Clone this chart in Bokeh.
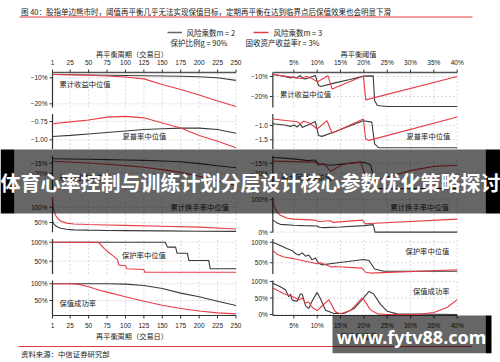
import numpy as np
from bokeh.plotting import figure
from bokeh.models import Range1d
from bokeh.core.properties import value
from bokeh.embed import file_html
from bokeh.resources import INLINE

# ---------------- data ----------------
title = "图 40：股指单边熊市时，阈值再平衡几乎无法实现保值目标，定期再平衡在达到临界点后保值效果也会明显下滑"
source_note = "资料来源：中信证券研究部"
legend_m2 = "风险乘数m = 2"
legend_m3 = "风险乘数m = 3"
legend_g = "保护比例g = 90%"
legend_r = "固收资产收益率r = 3%"
left_axis_title = "再平衡周期（交易日）"
right_axis_title = "再平衡阈值"
panel_names = ["累计收益中位值", "夏普率中位值", "最大回撤中位值", "累计换手率中位值", "保护率中位值", "保值成功率"]
banner_text = "体育心率控制与训练计划分层设计核心参数优化策略探讨"
watermark_text = "www.fytv88.com"

period_ticks = [1, 25, 50, 75, 100, 125, 150, 175, 200, 225, 250]
threshold_ticks = [5, 10, 15, 20, 25, 30, 35, 40]
threshold_labels = ["5%", "10%", "15%", "20%", "25%", "30%", "35%", "40%"]

# left column: periodic rebalancing (x = trading days)
days = [1, 25, 50, 75, 100, 125, 150, 175, 200, 225, 250]
ret_m2_L = [-8.7, -8.8, -8.9, -9.0, -9.1, -9.2, -9.3, -9.4, -9.6, -10.0, -11.0]
ret_m3_L = [-8.7, -8.8, -9.0, -9.3, -9.7, -10.4, -12.6, -14.5, -16.6, -18.9, -21.0]
sh_m2_L = [-0.955, -0.94, -0.92, -0.90, -0.88, -0.86, -0.85, -0.84, -0.84, -0.86, -0.91]
sh_m3_L = [-0.78, -0.755, -0.73, -0.69, -0.68, -0.70, -0.77, -0.84, -0.94, -1.02, -1.11]
dd_m2_L = [-12.8, -12.9, -13.0, -13.2, -13.4, -13.6, -13.9, -14.3, -15.2, -16.3, -17.3]
dd_m3_L = [-14.0, -14.4, -14.9, -15.5, -16.2, -17.0, -18.2, -19.6, -21.5, -23.8, -26.2]
to_days = [1, 2, 3, 5, 8, 12, 20, 30, 50, 75, 100, 150, 200, 250]
to_m2_L = [55, 50, 45, 40, 35, 31, 28, 26, 25, 24, 23.5, 22.5, 21.5, 21]
to_m3_L = [132, 100, 88, 74, 63, 55, 48, 45, 43.5, 42, 40.5, 38, 35, 29]
pr_days_m2 = [1, 154, 157, 168, 170, 184, 186, 213, 215, 250]
pr_m2_L = [100, 100, 87, 87, 71, 71, 52, 52, 30, 30]
pr_days_m3 = [1, 63, 67, 71, 76, 82, 89, 91, 100, 102, 125, 126, 250]
pr_m3_L = [100, 100, 92, 84, 75, 66, 55, 40, 38, 30, 28, 21, 21]
sc_days = [1, 25, 35, 50, 66, 75, 100, 125, 150, 175, 200, 225, 250]
sc_m2_L = [100, 100, 100, 100, 100, 100, 99, 95, 86, 72, 61, 48, 35]
sc_m3_L = [100, 100, 99, 91, 80, 75, 61, 48, 36, 26, 18.5, 13, 10]

# right column: threshold rebalancing (x = threshold %)
ret_m2_x = [0.5, 2, 3, 4.3, 5, 5.5, 6.4, 6.8, 7.5, 9.6, 10.3, 10.8, 13.6, 17, 20, 22, 22.3, 22.9, 25, 40]
ret_m2_R = [-9.0, -9.5, -10.0, -10.7, -10.2, -10.8, -9.5, -11.0, -11.2, -9.5, -14.5, -15.0, -13.3, -11.5, -9.8, -9.7, -22.0, -24.5, -25.0, -25.0]
ret_m3_x = [0.5, 3, 5, 6.5, 7, 7.7, 8.9, 10, 12.3, 13.2, 19.9, 20.4, 40]
ret_m3_R = [-9.0, -9.8, -10.5, -11.0, -10.5, -10.0, -11.0, -12.7, -9.6, -16.2, -9.7, -21.7, -10.0]
sh_m2_x = [0.5, 3, 4.3, 5, 5.7, 6.4, 6.8, 9.6, 10.3, 11, 13.6, 19.9, 21.7, 22.3, 23.2, 40]
sh_m2_R = [-0.94, -0.98, -1.03, -0.98, -1.05, -0.95, -1.07, -0.86, -1.35, -1.38, -1.23, -0.83, -0.88, -1.64, -1.78, -1.78]
sh_m3_x = [0.5, 5.7, 6.4, 7.1, 8.2, 10, 12.1, 13.2, 19.9, 20.4, 21.1, 40]
sh_m3_R = [-0.77, -0.87, -0.94, -0.85, -0.90, -1.12, -0.83, -1.27, -0.77, -1.47, -1.52, -0.70]
dd_m2_x = [0.5, 3, 6.4, 8, 9.6, 10.3, 12.9, 19.3, 20.7, 21.5, 22.5, 40]
dd_m2_R = [-12.3, -12.6, -13.3, -13.8, -13.5, -15.3, -16.0, -14.5, -15.0, -16.0, -27.0, -27.0]
dd_m3_x = [0.5, 9.6, 10.3, 11.4, 12.9, 15.7, 19.3, 20.3, 21, 25, 30, 35, 40]
dd_m3_R = [-14.0, -14.5, -16.0, -15.2, -18.8, -15.3, -14.5, -20.8, -24.0, -21.5, -18.5, -16.5, -16.0]
to_m2_x = [0.5, 1.2, 2.1, 5, 7, 10, 10.5, 11.5, 15, 20, 22, 22.4, 40]
to_m2_R = [37, 30, 24, 21, 20, 19, 15, 14, 16, 20, 23, 0, 0]
to_m3_x = [0.5, 0.8, 1.3, 2.1, 3.6, 5, 9.6, 10.2, 12.9, 13.3, 19.7, 20.3, 40]
to_m3_R = [100, 80, 65, 52, 43, 40, 37, 33, 35, 30, 37, 26, 40]
pr_m2_x = [0.5, 2.1, 3.6, 4.6, 5.4, 6.1, 6.8, 7.5, 8.2, 8.9, 9.6, 10.3, 11, 13.6, 20, 21.1, 22.3, 24.3, 40]
pr_m2_R = [100, 92, 84, 80, 72, 69, 74, 66, 69, 57, 62, 49, 45, 49, 58, 55.6, 35, 29.6, 29.6]
pr_m3_x = [0.5, 1.5, 2.9, 5, 7, 10, 10.7, 13.2, 13.6, 19.6, 20.4, 21.4, 40]
pr_m3_R = [80, 70, 64, 60, 55, 47.5, 50, 39, 41, 37, 27, 25, 33]
sc_m2_x = [0.5, 2.0, 3.2, 3.9, 4.3, 4.6, 5.0, 5.7, 6.4, 6.8, 7.5, 8.2, 8.9, 10.0, 10.7, 11.8, 13.6, 15.7, 17.9, 19.3, 21.1, 22.1, 23.6, 25.0, 27.1, 40]
sc_m2_R = [95, 85, 75, 54, 62, 45, 42, 40, 62, 62, 27, 18, 40, 67, 48, 13, 3, 3, 18, 40, 70, 62, 30, 10, 2, 0]
sc_m3_x = [0.5, 2.9, 4.6, 6.1, 6.8, 7.5, 8.2, 8.9, 10.0, 11, 12.5, 13.9, 15, 17.1, 19.6, 20.0, 21.4, 22.9, 25, 31.4, 35, 37.9, 40]
sc_m3_R = [80, 63, 55, 45, 50, 35, 38, 22, 12, 25, 45, 8, 2, 12, 50, 45, 14, 2, 0, 0, 6, 22, 45]

# y ticks and axis limits per panel
left_ticks = [([-10, -20], ["−10%", "−20%"]), ([-0.75, -1.00], ["−0.75", "−1.00"]), ([-15, -20], ["−15%", "−20%"]),
              ([100, 50], ["100%", "50%"]), ([100, 50], ["100%", "50%"]), ([100, 50], ["100%", "50%"])]
right_ticks = [([-10, -20], ["−10%", "−20%"]), ([-1.0, -1.5], ["−1.0", "−1.5"]), ([-15, -20], ["−15%", "−20%"]),
               ([100, 0], ["100%", "0%"]), ([100, 50], ["100%", "50%"]), ([100, 50, 0], ["100%", "50%", "0%"])]
left_lims = [(-21.4, -7.96), (-1.127, -0.649), (-28.75, -11.25), (18, 132.4), (16.6, 108.7), (5.1, 109.9)]
right_lims = [(-25.5, -8.0), (-1.825, -0.60), (-27.97, -11.46), (-0.6, 107.6), (23, 108), (-3, 103)]

left_series = [(days, ret_m2_L, days, ret_m3_L), (days, sh_m2_L, days, sh_m3_L), (days, dd_m2_L, days, dd_m3_L),
               (to_days, to_m2_L, to_days, to_m3_L), (pr_days_m2, pr_m2_L, pr_days_m3, pr_m3_L), (sc_days, sc_m2_L, sc_days, sc_m3_L)]
right_series = [(ret_m2_x, ret_m2_R, ret_m3_x, ret_m3_R), (sh_m2_x, sh_m2_R, sh_m3_x, sh_m3_R), (dd_m2_x, dd_m2_R, dd_m3_x, dd_m3_R),
                (to_m2_x, to_m2_R, to_m3_x, to_m3_R), (pr_m2_x, pr_m2_R, pr_m3_x, pr_m3_R), (sc_m2_x, sc_m2_R, sc_m3_x, sc_m3_R)]

# ---------------- style / layout ----------------
W, H = 500, 362
GRAY = "#3a3a3a"
RED = "#e63c46"
GRID = "#cfcfcf"
CJK = value("Noto Sans CJK SC")
LAT = value("Liberation Sans")

def Y(py):
    return H - py

p = figure(width=W, height=H, x_range=Range1d(0, W), y_range=Range1d(0, H),
           output_backend="svg", toolbar_location=None, min_border=0,
           x_axis_location=None, y_axis_location=None)
p.grid.visible = False
p.outline_line_color = None
p.background_fill_color = "white"
p.border_fill_color = "white"

def ptext(x, y, t, size="7.2px", align="left", color="#222", font=CJK, style="normal", baseline="middle"):
    p.text(x=[x], y=[Y(y)], text=[t], text_font=font, text_font_size=size, text_align=align,
           text_baseline=baseline, text_color=color, text_font_style=style)

# header
ptext(20.5, 10.5, title, size="7.5px")
p.segment(x0=[19], y0=[Y(16.5)], x1=[472], y1=[Y(16.5)], line_color=RED, line_width=1)
p.segment(x0=[167], y0=[Y(32)], x1=[181.5], y1=[Y(32)], line_color="#666", line_width=1.5)
ptext(186, 32, legend_m2, size="7.5px")
p.segment(x0=[253], y0=[Y(32)], x1=[268], y1=[Y(32)], line_color=RED, line_width=1.5)
ptext(273, 32, legend_m3, size="7.5px")
ptext(170, 42, legend_g, size="7.5px")
ptext(245, 42, legend_r, size="7.5px")
ptext(131.5, 53.3, left_axis_title, align="center")
ptext(358, 53.3, right_axis_title, align="center")
ptext(131.5, 335, left_axis_title, align="center")
ptext(358, 335, right_axis_title, align="center")

# panels
TOP0, STEP, PH = 72.0, 41.6, 35.0
cols = {
    "L": dict(xsrc=(1, 250), xtgt=(52, 235.5), xmin=1, xmax=250, xt=period_ticks, xl=[str(t) for t in period_ticks],
              grid_x=period_ticks[1:], ticks=left_ticks, lims=left_lims, series=left_series),
    "R": dict(xsrc=(0, 40), xtgt=(270, 456.7), xmin=0.5, xmax=40, xt=threshold_ticks, xl=threshold_labels,
              grid_x=threshold_ticks, ticks=right_ticks, lims=right_lims, series=right_series),
}
label_pos = {
    "L": [(59, 83.3, "left"), (122, 135, "left"), (59, 176, "left"), (170, 206.7, "left"), (121.5, 254, "left"), (59, 302.7, "left")],
    "R": [(279.5, 93.3, "left"), (406, 135, "left"), (280.5, 176, "left"), (390, 206.7, "left"), (405, 250, "left"), (412.5, 290.7, "left")],
}

for key, c in cols.items():
    for r in range(6):
        top = TOP0 + r * STEP
        bot = top + PH
        ymin, ymax = c["lims"][r]
        sub = p.subplot(x_source=Range1d(*c["xsrc"]), y_source=Range1d(ymin, ymax),
                        x_target=Range1d(*c["xtgt"]), y_target=Range1d(Y(bot), Y(top)))
        xmin, xmax = c["xmin"], c["xmax"]
        gx = c["grid_x"]
        sub.segment(x0=gx, y0=[ymin] * len(gx), x1=gx, y1=[ymax] * len(gx),
                    line_color=GRID, line_width=0.8, line_dash="2 2")
        yt, yl = c["ticks"][r]
        sub.segment(x0=[xmin] * len(yt), y0=yt, x1=[xmax] * len(yt), y1=yt,
                    line_color=GRID, line_width=0.8, line_dash="2 2")
        # y axis
        sub.segment(x0=[xmin], y0=[ymin], x1=[xmin], y1=[ymax], line_color="#333", line_width=1.2)
        sub.ray(x=[xmin] * len(yt), y=yt, length=3, angle=np.pi, length_units="screen",
                line_color="#333", line_width=1)
        sub.text(x=[xmin] * len(yt), y=yt, text=yl, x_offset=-5, text_align="right", text_baseline="middle",
                 text_font=LAT, text_font_size="6.5px", text_color="#222")
        if r == 0:
            sub.segment(x0=[xmin], y0=[ymax], x1=[xmax], y1=[ymax], line_color="#555", line_width=1.6)
            sub.ray(x=c["xt"], y=[ymax] * len(c["xt"]), length=3, angle=np.pi / 2, length_units="screen",
                    line_color="#333", line_width=1)
            sub.text(x=c["xt"], y=[ymax] * len(c["xt"]), text=c["xl"], y_offset=-10, text_align="center",
                     text_baseline="middle", text_font=LAT, text_font_size="6.5px", text_color="#222")
        if r == 5:
            sub.segment(x0=[xmin], y0=[ymin], x1=[xmax], y1=[ymin], line_color="#333", line_width=1.2)
            sub.ray(x=c["xt"], y=[ymin] * len(c["xt"]), length=3, angle=-np.pi / 2, length_units="screen",
                    line_color="#333", line_width=1)
            sub.text(x=c["xt"], y=[ymin] * len(c["xt"]), text=c["xl"], y_offset=10, text_align="center",
                     text_baseline="middle", text_font=LAT, text_font_size="6.5px", text_color="#222")
        x2, y2, x3, y3 = c["series"][r]
        sub.line(x=x2, y=y2, line_color=GRAY, line_width=1.1)
        sub.line(x=x3, y=y3, line_color=RED, line_width=1.1)
        lx, ly, la = label_pos[key][r]
        ptext(lx, ly, panel_names[r], size="7.3px", align=la)

# footer
p.segment(x0=[18], y0=[Y(346)], x1=[472], y1=[Y(346)], line_color=RED, line_width=1)
ptext(20.5, 353.3, source_note, size="7.4px")

# overlays
p.quad(left=[14], right=[485], bottom=[Y(213)], top=[Y(149)], fill_color="black", fill_alpha=0.6, line_color=None)
p.quad(left=[0, 485], right=[14, 500], bottom=[Y(213)] * 2, top=[Y(149)] * 2, fill_color="black", line_color=None)
ptext(250, 181.5, banner_text, size="20px", align="center", color="white", style="bold")
p.quad(left=[332], right=[485], bottom=[Y(352.7)], top=[Y(315)], fill_color="black", fill_alpha=0.6, line_color=None)
p.quad(left=[485], right=[491], bottom=[Y(352.7)], top=[Y(315)], fill_color="black", line_color=None)
ptext(411, 336, watermark_text, size="18px", align="center", color="white", font=value("Noto Sans"), style="bold")

open("out.html", "w").write(file_html(p, INLINE))
